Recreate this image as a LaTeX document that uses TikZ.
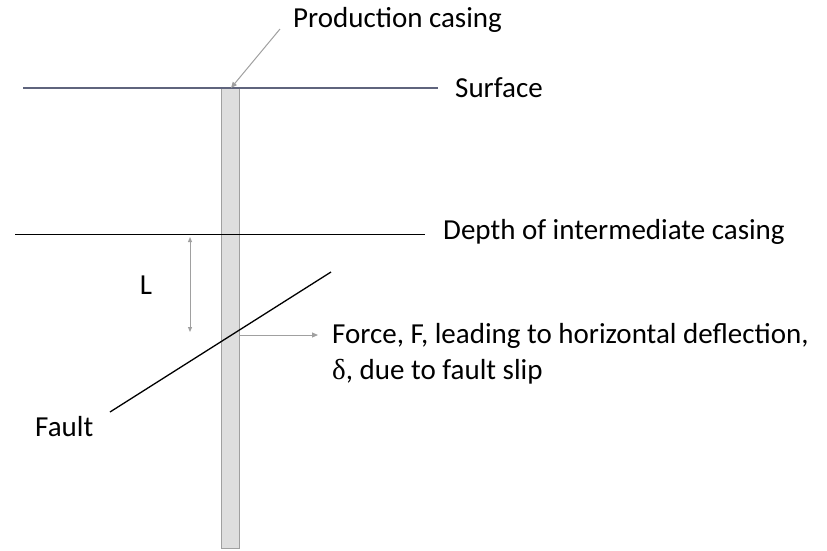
\documentclass[tikz,border=0pt]{standalone}
\usepackage{fontspec}
\setmainfont{Carlito}
\newfontfamily\grk{Liberation Serif}
\definecolor{myg}{RGB}{160,160,160}
\definecolor{mysl}{RGB}{95,100,125}
\usetikzlibrary{arrows.meta, positioning}

\begin{document}
\begin{tikzpicture}[x=1pt, y=-1pt, font=\fontsize{29}{36}\selectfont,
    lbl/.style={anchor=west, inner sep=0pt},
    pointer/.style={-{Triangle[length=6pt, width=5pt]}, myg, line width=1pt}]
        \useasboundingbox (0,0) rectangle (827,550);
        % casing
        \draw[myg, fill=myg!35, line width=1pt] (221,88) rectangle (239,548);
        \coordinate (top) at (231,88);
        % horizons
        \draw[mysl, line width=1.3pt] (23,88) -- (438,88);
        \draw[black, line width=1pt] (15,234) -- (425,234);
        \node[lbl] (surf) at (455,88) {Surface};
        \node[lbl] (depth) at (443,232) {Depth of intermediate casing};
        \node[lbl] (prod) at (293,20) {Production casing};
        \coordinate (ps) at (280,29);
        \draw[pointer] (ps) -- (top);
        % length between casing shoe and fault
        \coordinate (la) at (190,237);
        \coordinate (lb) at (190,332);
        \draw[{Triangle[length=5pt, width=4pt]}-{Triangle[length=5pt, width=4pt]}, myg, line width=1pt] (la) -- (lb);
        \node (L) at (146,285) {L};
        % fault
        \coordinate (fa) at (110,412);
        \coordinate (fb) at (331,272);
        \draw[line width=1.3pt] (fa) -- (fb);
        \node[lbl] (fault) at (35,427) {Fault};
        % force
        \coordinate (fs) at (239,335);
        \node[lbl, align=left] (force) at (332,354) {Force, F, leading to horizontal deflection,\\{\grk δ}, due to fault slip};
        \draw[pointer] (fs) -- ([xshift=-14pt]force.west |- fs);
\end{tikzpicture}
\end{document}
